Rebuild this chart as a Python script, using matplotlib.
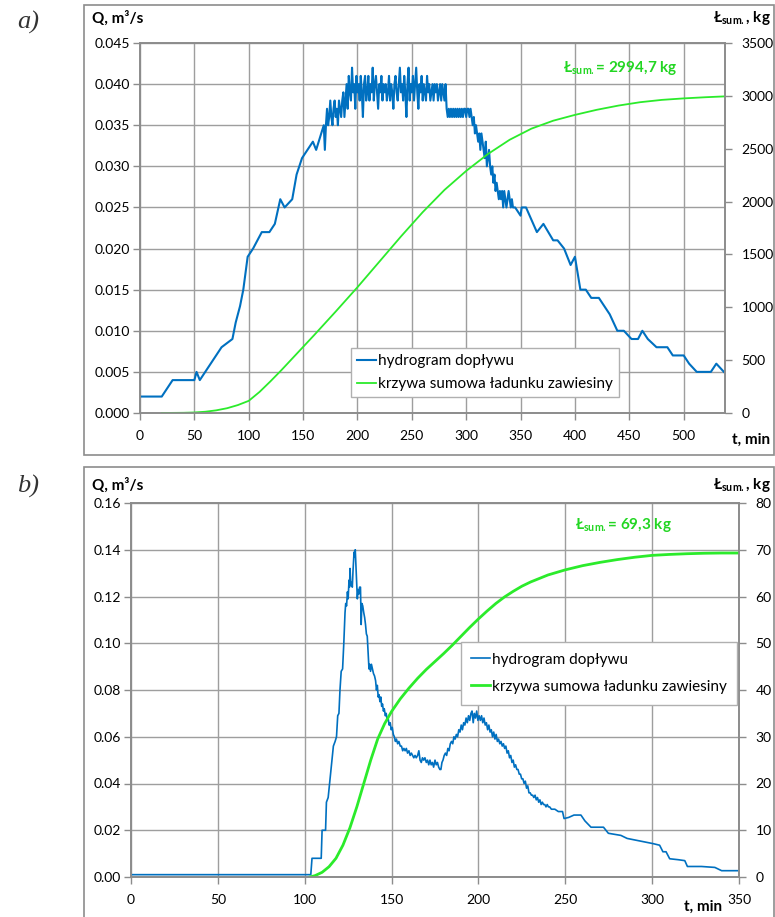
import matplotlib
matplotlib.use('Agg')
import matplotlib.pyplot as plt
from matplotlib.patches import Rectangle
from matplotlib.ticker import FormatStrFormatter

plt.rcParams['font.family'] = ['Lato', 'DejaVu Sans']
plt.rcParams['mathtext.fontset'] = 'custom'
plt.rcParams['mathtext.rm'] = 'Lato'
plt.rcParams['mathtext.bf'] = 'Lato:bold'
plt.rcParams['mathtext.it'] = 'Lato:italic'

# ---------------- data: panel a ----------------
t_a = [0, 20, 30, 50, 52, 55, 60, 65, 70, 75, 85, 88, 92, 95, 99, 104, 108, 112, 119, 124,
       129, 133, 140, 144, 149, 159, 162, 169,
       170, 171, 172, 173, 174, 175, 176, 177, 178, 179, 180, 181, 182, 183, 184, 185, 186, 187, 188, 189,
       190, 191, 192, 193, 194, 195, 196, 197, 198, 199, 200, 201, 202, 203, 204, 205, 206, 207, 208, 209,
       210, 211, 212, 213, 214, 215, 216, 217, 218, 219, 220, 221, 222, 223, 224, 225, 226, 227, 228, 229,
       230, 231, 232, 233, 234, 235, 236, 237, 238, 239, 240, 241, 242, 243, 244, 245, 246, 247, 248, 249,
       250, 251, 252, 253, 254, 255, 256, 257, 258, 259, 260, 261, 262, 263, 264, 265, 266, 267, 268, 269,
       270, 271, 272, 273, 274, 275, 276, 277, 278, 279, 280, 281, 282, 283, 284, 285, 286, 287, 288, 289,
       290, 291, 292, 293, 294, 295, 296, 297, 298, 299, 300, 301, 302, 303, 304, 305, 306, 307, 308, 309,
       310, 311, 312, 313, 314, 315, 316, 317, 318, 319, 320, 321, 322, 323, 324, 325, 326, 327, 328, 329,
       330, 331, 332, 333, 334, 335, 336, 337, 338, 339, 340, 341, 342, 343, 344, 345,
       350, 351, 355, 365, 371, 380, 384, 390, 396, 400, 405, 410, 415, 422, 432, 439, 445, 452, 458,
       462, 467, 475, 485, 490, 500, 505, 512, 525, 530, 537]
q_a = [0.002, 0.002, 0.004, 0.004, 0.005, 0.004, 0.005, 0.006, 0.007, 0.008, 0.009, 0.011, 0.013, 0.015,
       0.019, 0.020, 0.021, 0.022, 0.022, 0.023, 0.026, 0.025, 0.026, 0.029, 0.031, 0.033, 0.032, 0.035,
       0.032, 0.035, 0.037, 0.035, 0.036, 0.038, 0.036, 0.035, 0.037, 0.038, 0.036, 0.037, 0.035, 0.038, 0.037, 0.036, 0.038, 0.039, 0.036, 0.038,
       0.040, 0.037, 0.041, 0.039, 0.038, 0.042, 0.039, 0.040, 0.037, 0.041, 0.039, 0.040, 0.038, 0.041, 0.039, 0.036, 0.040, 0.041, 0.038, 0.039,
       0.041, 0.038, 0.040, 0.039, 0.042, 0.038, 0.040, 0.041, 0.039, 0.037, 0.040, 0.039, 0.041, 0.038, 0.040, 0.039, 0.040, 0.038, 0.039, 0.041,
       0.038, 0.040, 0.039, 0.037, 0.040, 0.041, 0.039, 0.038, 0.040, 0.042, 0.039, 0.040, 0.038, 0.041, 0.039, 0.036, 0.040, 0.042, 0.038, 0.040,
       0.039, 0.041, 0.038, 0.040, 0.042, 0.039, 0.037, 0.040, 0.039, 0.041, 0.038, 0.040, 0.039, 0.038, 0.041, 0.039, 0.040, 0.038, 0.039, 0.040,
       0.038, 0.040, 0.039, 0.040, 0.038, 0.039, 0.040, 0.038, 0.040, 0.039, 0.038, 0.040, 0.037, 0.036, 0.037, 0.036, 0.037, 0.036, 0.037, 0.036,
       0.037, 0.036, 0.037, 0.036, 0.037, 0.036, 0.037, 0.036, 0.037, 0.037, 0.036, 0.037, 0.037, 0.036, 0.037, 0.036, 0.035, 0.036, 0.034, 0.035,
       0.034, 0.033, 0.034, 0.032, 0.034, 0.033, 0.032, 0.031, 0.033, 0.030, 0.031, 0.032, 0.030, 0.029, 0.030, 0.028, 0.029, 0.027, 0.028, 0.027,
       0.026, 0.027, 0.026, 0.027, 0.025, 0.027, 0.026, 0.025, 0.026, 0.027, 0.026, 0.025, 0.026, 0.025, 0.025, 0.025,
       0.024, 0.025, 0.025, 0.022, 0.023, 0.021, 0.021, 0.020, 0.018, 0.019, 0.015, 0.015, 0.014, 0.014, 0.012, 0.010, 0.010, 0.009, 0.009,
       0.010, 0.009, 0.008, 0.008, 0.007, 0.007, 0.006, 0.005, 0.005, 0.006, 0.005]

tL_a = [20, 40, 50, 60, 70, 80, 90, 100, 110, 120, 130, 140, 150, 160, 180, 200, 220, 240, 260, 280,
        300, 320, 340, 360, 380, 400, 420, 440, 460, 480, 500, 520, 537]
L_a = [0, 2, 5, 12, 25, 45, 75, 115, 200, 300, 405, 515, 625, 735, 960, 1190, 1430, 1670, 1900, 2110,
       2290, 2450, 2585, 2690, 2765, 2820, 2868, 2908, 2940, 2962, 2976, 2987, 2994.7]

# ---------------- data: panel b ----------------
t_b = [0, 103.5, 104.2, 109.5, 110, 112, 112.5, 113.5, 115, 116.5, 117.5, 118.3, 119, 119.7, 120.3, 121,
       121.8, 122.5, 123.2, 123.6, 124.1, 124.6, 125, 125.5, 125.8, 126.1, 126.5, 127, 127.4, 127.8, 128.4,
       128.8, 129.1, 129.5, 129.8, 130.3, 130.7, 131.1, 131.6, 132.1, 132.5, 132.9, 133.4, 134, 134.5, 135,
       135.5, 136, 136.5, 137, 137.4, 137.9, 138.4, 139, 139.6, 140.2, 140.8, 141.3, 141.8, 142.3, 142.8,
       143.3, 143.8, 144.3, 144.8, 145.3, 145.8, 146.4, 146.9, 147.5, 148, 148.6, 149.2, 149.8, 150.4, 151,
       151.6, 152.2, 152.8, 153.5, 154.2, 155, 155.7, 156.4, 157.1, 157.8, 158.5, 159.2, 160, 160.7, 161.4,
       162.1, 162.8, 163.5, 164.2, 165, 165.7, 166.4, 167.1, 167.8, 168.5, 169.2, 170, 170.7, 171.4, 172.1,
       172.8, 173.5, 174.2, 175, 175.7, 176.4, 177.1, 177.8, 178.4, 179, 179.6, 180.3, 181, 181.7, 182.4,
       183.1, 183.8, 184.5, 185.2, 185.9, 186.6, 187.3, 188, 188.7, 189.4, 190.1, 190.8, 191.5, 192.2, 192.9,
       193.6, 194.3, 195, 195.7, 196.3, 197, 197.6, 198.3, 199, 199.7, 200.4, 201.1, 201.8, 202.5, 203.2,
       203.9, 204.6, 205.3, 206, 206.7, 207.4, 208.1, 208.8, 209.5, 210.2, 210.9, 211.6, 212.3, 213, 213.7,
       214.4, 215.1, 215.8, 216.5, 217.2, 217.9, 218.6, 219.3, 220, 220.7, 221.4, 222.1, 222.8, 223.5, 224.2,
       224.9, 225.6, 226.3, 227, 227.7, 228.4, 229.1, 229.8, 230.5, 231.2, 231.9, 232.6, 233.3, 234, 234.7,
       235.4, 236.1, 236.8, 237.5, 238.2, 238.9, 239.6, 240.3, 241, 242, 244, 246, 248.4, 249.3, 252, 255,
       259, 261.3, 264.8, 272, 274.8, 282, 285.6, 291, 295.6, 300.4, 304.3, 306.2, 308, 310.1, 315, 318.8,
       320.3, 328.4, 336.1, 340, 350]
q_b = [0.001, 0.001, 0.008, 0.008, 0.020, 0.020, 0.032, 0.034, 0.045, 0.056, 0.058, 0.060, 0.069, 0.070,
       0.080, 0.088, 0.089, 0.100, 0.113, 0.117, 0.116, 0.122, 0.119, 0.127, 0.124, 0.132, 0.125, 0.126,
       0.124, 0.131, 0.139, 0.137, 0.140, 0.133, 0.128, 0.119, 0.123, 0.121, 0.124, 0.124, 0.108, 0.117,
       0.116, 0.113, 0.111, 0.108, 0.104, 0.103, 0.096, 0.089, 0.091, 0.088, 0.091, 0.089, 0.087, 0.086,
       0.084, 0.080, 0.082, 0.077, 0.078, 0.075, 0.077, 0.073, 0.074, 0.071, 0.072, 0.069, 0.070, 0.067,
       0.068, 0.065, 0.066, 0.063, 0.064, 0.061, 0.060, 0.058, 0.059, 0.057, 0.058, 0.056, 0.056, 0.054,
       0.055, 0.054, 0.055, 0.053, 0.054, 0.052, 0.053, 0.052, 0.051, 0.052, 0.051, 0.052, 0.054, 0.050,
       0.049, 0.051, 0.050, 0.051, 0.049, 0.050, 0.048, 0.050, 0.048, 0.049, 0.047, 0.050, 0.048, 0.049,
       0.047, 0.046, 0.046, 0.049, 0.050, 0.052, 0.053, 0.052, 0.055, 0.054, 0.057, 0.058, 0.057, 0.060,
       0.059, 0.061, 0.060, 0.063, 0.062, 0.065, 0.063, 0.066, 0.065, 0.068, 0.066, 0.069, 0.067, 0.070,
       0.071, 0.066, 0.070, 0.068, 0.071, 0.067, 0.069, 0.067, 0.069, 0.066, 0.068, 0.065, 0.066, 0.063,
       0.065, 0.062, 0.063, 0.060, 0.062, 0.059, 0.061, 0.058, 0.059, 0.057, 0.058, 0.056, 0.057, 0.055,
       0.056, 0.053, 0.054, 0.051, 0.052, 0.049, 0.050, 0.047, 0.048, 0.046, 0.046, 0.044, 0.044, 0.042,
       0.042, 0.040, 0.041, 0.038, 0.039, 0.036, 0.036, 0.035, 0.035, 0.034, 0.035, 0.033, 0.034, 0.032,
       0.033, 0.031, 0.032, 0.031, 0.031, 0.030, 0.031, 0.030, 0.030, 0.029, 0.029, 0.028, 0.028, 0.025,
       0.0255, 0.0265, 0.0265, 0.024, 0.0213, 0.0213, 0.0187, 0.0178, 0.0165, 0.0157, 0.015, 0.0143,
       0.0136, 0.0108, 0.0108, 0.0078, 0.0074, 0.007, 0.0045, 0.0045, 0.0041, 0.0027, 0.0027]

tL_b = [103, 106, 110, 114, 118, 122, 126, 130, 134, 138, 142, 146, 150, 155, 160, 165, 170, 175, 180,
        185, 190, 195, 200, 205, 210, 215, 220, 225, 230, 240, 250, 260, 270, 280, 290, 300, 310, 320,
        330, 340, 350]
L_b = [0, 0.3, 1.0, 2.2, 4.0, 6.8, 10.5, 15.0, 20.0, 25.0, 29.5, 32.8, 35.4, 38.1, 40.4, 42.5, 44.4,
       46.1, 47.8, 49.6, 51.5, 53.4, 55.2, 56.9, 58.5, 59.9, 61.1, 62.2, 63.1, 64.6, 65.7, 66.6, 67.3,
       67.9, 68.4, 68.8, 69.0, 69.15, 69.25, 69.3, 69.3]

xticks_a = [0, 50, 100, 150, 200, 250, 300, 350, 400, 450, 500]
yticks_a = [0.000, 0.005, 0.010, 0.015, 0.020, 0.025, 0.030, 0.035, 0.040, 0.045]
y2ticks_a = [0, 500, 1000, 1500, 2000, 2500, 3000, 3500]
xticks_b = [0, 50, 100, 150, 200, 250, 300, 350]
yticks_b = [0.00, 0.02, 0.04, 0.06, 0.08, 0.10, 0.12, 0.14, 0.16]
y2ticks_b = [0, 10, 20, 30, 40, 50, 60, 70, 80]

labels = ['hydrogram dopływu', 'krzywa sumowa ładunku zawiesiny']

# ---------------- styling ----------------
BLUE = '#0070C0'
GREEN = '#2BEB2B'
GREEN_TXT = '#22D622'
GRID = '#9E9E9E'
AXIS = '#8C8C8C'
W, H = 775, 917

fig = plt.figure(figsize=(7.75, 9.17), dpi=100)


def fx(px):
    return px / W


def fy(py):
    return 1 - py / H


def add_ax(l, t, r, b):
    return fig.add_axes([fx(l), fy(b), (r - l) / W, (b - t) / H])


def frame(l, t, r, b):
    fig.add_artist(Rectangle((fx(l), fy(b)), (r - l) / W, (b - t) / H, transform=fig.transFigure,
                             fill=False, edgecolor=AXIS, lw=1.2))


def style(ax, ax2, xt, xl, yt, y2t, fmt):
    ax.set_axisbelow(True)
    ax.grid(True, color=GRID, lw=1)
    for a in (ax, ax2):
        for s in a.spines.values():
            s.set_color(AXIS)
            s.set_linewidth(1.2)
        a.tick_params(direction='out', length=5, width=1, color=AXIS, labelsize=10, labelcolor='black')
    ax.set_xticks(xt)
    ax.set_xlim(*xl)
    ax.set_yticks(yt)
    ax.set_ylim(yt[0], yt[-1])
    ax.yaxis.set_major_formatter(FormatStrFormatter(fmt))
    ax2.set_yticks(y2t)
    ax2.set_ylim(y2t[0], y2t[-1])
    ax.tick_params(axis='y', pad=2)
    ax.tick_params(axis='x', pad=7)
    ax2.tick_params(axis='y', pad=7)


frame(84, 5, 774, 455)
frame(84, 467, 774, 930)

# panel a
ax = add_ax(140, 43, 725, 413)
ax2 = ax.twinx()
style(ax, ax2, xticks_a, (0, 538), yticks_a, y2ticks_a, '%.3f')
l1, = ax.plot(t_a, q_a, color=BLUE, lw=1.5)
l2, = ax2.plot(tL_a, L_a, color=GREEN, lw=1.3)
leg = ax2.legend([l1, l2], labels, loc='upper left', bbox_to_anchor=(0.361, 0.176), borderaxespad=0,
                 fontsize=11, frameon=True, fancybox=False, edgecolor='#B0B0B0', framealpha=1,
                 handlelength=1.2, handletextpad=0.15, labelspacing=0.6, borderpad=0.4)
leg.get_frame().set_linewidth(1)

# panel b
bx = add_ax(131, 503, 739, 877)
bx2 = bx.twinx()
style(bx, bx2, xticks_b, (0, 350), yticks_b, y2ticks_b, '%.2f')
m1, = bx.plot(t_b, q_b, color=BLUE, lw=1.2)
m2, = bx2.plot(tL_b, L_b, color=GREEN, lw=2.0)
leg2 = bx2.legend([m1, m2], labels, loc='upper left', bbox_to_anchor=(0.542, 0.628), borderaxespad=0,
                  fontsize=11, frameon=True, fancybox=False, edgecolor='#B0B0B0', framealpha=1,
                  handlelength=1.2, handletextpad=0.15, labelspacing=0.85, borderpad=0.7)
leg2.get_frame().set_linewidth(1)

# texts
for y in (18, 485):
    fig.text(fx(92), fy(y), 'Q, m³/s', fontsize=11, fontweight='bold', ha='left', va='center')
    fig.text(fx(771), fy(y), r'Ł$_{\mathbf{sum.}}$, kg', fontsize=11, fontweight='bold',
             ha='right', va='center')
fig.text(fx(28), fy(22), 'a)', family='Liberation Serif', style='italic', fontsize=19,
         ha='center', va='center', color='#333333')
fig.text(fx(28), fy(486), 'b)', family='Liberation Serif', style='italic', fontsize=19,
         ha='center', va='center', color='#333333')
fig.text(fx(563), fy(68), r'Ł$_{\mathbf{sum.}}$= 2994,7 kg', fontsize=11, fontweight='bold',
         color=GREEN_TXT, ha='left', va='center')
fig.text(fx(575), fy(525), r'Ł$_{\mathbf{sum.}}$= 69,3 kg', fontsize=11, fontweight='bold',
         color=GREEN_TXT, ha='left', va='center')
fig.text(fx(770), fy(440), 't, min', fontsize=11, fontweight='bold', ha='right', va='center')
fig.text(fx(722), fy(907), 't, min', fontsize=11, fontweight='bold', ha='right', va='center')

fig.savefig('out.png', dpi=100)
